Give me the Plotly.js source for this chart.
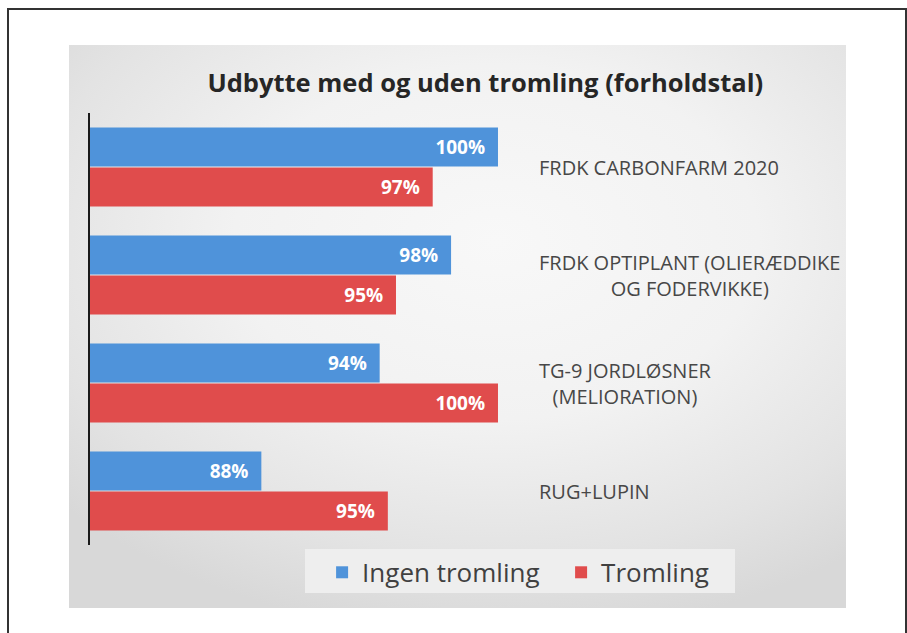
<!DOCTYPE html>
<html>
<head>
<meta charset="utf-8">
<script src="https://cdn.plot.ly/plotly-3.0.1.min.js"></script>
<style>
  html, body { margin:0; padding:0; background:#ffffff; }
  #wrap { position:relative; width:907px; height:633px; overflow:hidden; }
  #frame { position:absolute; left:7px; top:8px; width:896px; height:700px;
           border-top:2px solid #333; border-left:2px solid #333; border-right:2px solid #333; }
  #panel { position:absolute; left:69px; top:45px; width:777px; height:563px;
           background: radial-gradient(ellipse 75% 70% at 55% 35%, #f8f8f8 0%, #f2f2f2 45%, #e3e3e3 80%, #d8d8d8 100%); }
  #chart { position:absolute; left:0; top:0; width:907px; height:633px; }
</style>
</head>
<body>
<div id="wrap">
  <div id="frame"></div>
  <div id="panel"></div>
  <div id="chart"></div>
</div>
<script>
// Data
const categories = [
  "FRDK CARBONFARM 2020",
  "FRDK OPTIPLANT (OLIERÆDDIKE<br>OG FODERVIKKE)",
  "TG-9 JORDLØSNER<br>(MELIORATION)",
  "RUG+LUPIN"
];
const ingenTromling = [100, 97.7, 94.2, 88.4];
const tromling      = [96.8, 95.0, 100, 94.6];
const seriesNames = ["Ingen tromling", "Tromling"];
const titleText = "Udbytte med og uden tromling (forholdstal)";

const catIds = categories.map((c, i) => "c" + i);
const NB = "\u00a0\u00a0";

const barText = { family: "Open Sans", size: 19, color: "#ffffff", weight: "bold" };

const traces = [
  {
    type: "bar", orientation: "h", name: seriesNames[0],
    y: catIds, x: ingenTromling,
    marker: { color: "#4f93da" },
    texttemplate: "%{x:.0f}%" + NB,
    textposition: "inside", insidetextanchor: "end", constraintext: "none",
    textfont: barText, hoverinfo: "skip"
  },
  {
    type: "bar", orientation: "h", name: seriesNames[1],
    y: catIds, x: tromling,
    marker: { color: "#e04c4c" },
    texttemplate: "%{x:.0f}%" + NB,
    textposition: "inside", insidetextanchor: "end", constraintext: "none",
    textfont: barText, hoverinfo: "skip"
  }
];

const annotations = categories.map((c, i) => ({
  xref: "paper", yref: "y", x: 0.5913, y: catIds[i],
  xanchor: "left", yanchor: "middle", align: "center",
  text: c, showarrow: false,
  font: { family: "Open Sans", size: 20, color: "#474747" }
}));

const layout = {
  width: 907, height: 633,
  paper_bgcolor: "rgba(0,0,0,0)", plot_bgcolor: "rgba(0,0,0,0)",
  margin: { l: 90, r: 61, t: 113, b: 88, pad: 0 },
  barmode: "group", bargap: 0.26, bargroupgap: 0.02,
  title: {
    text: titleText, x: 0.535, xanchor: "center", xref: "container",
    y: 0.868, yref: "container", yanchor: "middle",
    font: { family: "Open Sans", size: 25.5, color: "#262626", weight: "bold" }
  },
  xaxis: { range: [80, 117.06], showgrid: false, zeroline: false, showline: false,
           showticklabels: false, ticks: "", fixedrange: true },
  yaxis: { type: "category", autorange: "reversed", showgrid: false, zeroline: false,
           showline: true, linecolor: "#1a1a1a", linewidth: 2, showticklabels: false,
           ticks: "", fixedrange: true },
  shapes: [{
    type: "rect", xref: "paper", yref: "paper", layer: "below",
    x0: (305 - 90) / 756, x1: (735 - 90) / 756,
    y0: (545 - 549) / 432, y1: (545 - 593) / 432,
    fillcolor: "#eeeeee", line: { width: 0 }
  }],
  showlegend: true,
  legend: {
    orientation: "h", x: 0.307, xanchor: "left", y: -0.009, yanchor: "top",
    bgcolor: "rgba(0,0,0,0)", borderwidth: 0, entrywidth: 194, entrywidthmode: "pixels",
    font: { family: "Open Sans", size: 26, color: "#404040" },
    traceorder: "normal"
  },
  annotations: annotations
};

Plotly.newPlot("chart", traces, layout, { displayModeBar: false, staticPlot: true });
</script>
</body>
</html>
